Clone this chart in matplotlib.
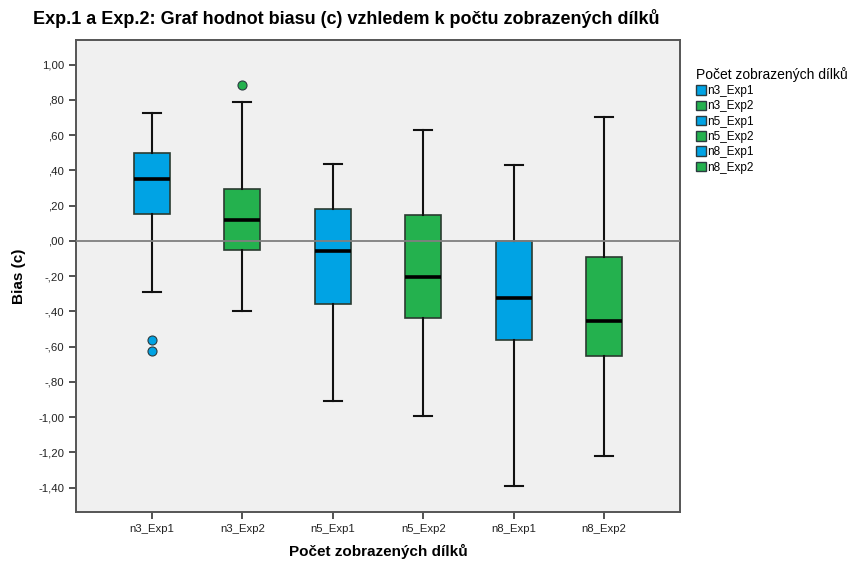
import matplotlib
matplotlib.use("Agg")
import matplotlib.pyplot as plt
from matplotlib.patches import Patch

plt.rcParams['font.family'] = ['Liberation Sans', 'DejaVu Sans']

# Groups and five-number summaries of the bias (c)
groups = ["n3_Exp1", "n3_Exp2", "n5_Exp1", "n5_Exp2", "n8_Exp1", "n8_Exp2"]
whisker_low = [-0.290, -0.396, -0.907, -0.996, -1.391, -1.223]
q1 = [0.150, -0.052, -0.356, -0.440, -0.561, -0.655]
median = [0.351, 0.120, -0.058, -0.203, -0.326, -0.455]
q3 = [0.500, 0.296, 0.179, 0.149, 0.000, -0.090]
whisker_high = [0.723, 0.791, 0.438, 0.627, 0.432, 0.703]
outliers = [[-0.563, -0.627], [0.882], [], [], [], []]

y_ticks = [1.0, 0.8, 0.6, 0.4, 0.2, 0.0, -0.2, -0.4, -0.6, -0.8, -1.0, -1.2, -1.4]
y_tick_labels = ["1,00", ",80", ",60", ",40", ",20", ",00", "-,20", "-,40",
                 "-,60", "-,80", "-1,00", "-1,20", "-1,40"]

blue = "#00A3E4"
green = "#24B14E"
colors = [blue, green, blue, green, blue, green]

fig = plt.figure(figsize=(8.55, 5.61), dpi=100)
ax = fig.add_axes([76 / 855, 1 - 512 / 561, 604 / 855, 472 / 561])
ax.set_facecolor("#F0F0F0")

stats = []
for i, g in enumerate(groups):
    stats.append(dict(label=g, whislo=whisker_low[i], q1=q1[i], med=median[i],
                      q3=q3[i], whishi=whisker_high[i], fliers=outliers[i]))

positions = list(range(1, len(groups) + 1))
bp = ax.bxp(stats, positions=positions, widths=0.4, patch_artist=True,
            showfliers=True,
            boxprops=dict(edgecolor="#2b3b30", linewidth=1.2),
            medianprops=dict(color="black", linewidth=2.6),
            whiskerprops=dict(color="#111111", linewidth=1.5),
            capprops=dict(color="#111111", linewidth=1.5),
            capwidths=0.2)
for patch, c in zip(bp['boxes'], colors):
    patch.set_facecolor(c)
for fl, c in zip(bp['fliers'], colors):
    fl.set(marker='o', markerfacecolor=c, markeredgecolor="#2b3b40",
           markersize=6.5, markeredgewidth=0.8)

# reference line at zero
ax.axhline(0, color="#808080", linewidth=1.3, zorder=5)

ax.set_xlim(0.16, 6.84)
ax.set_ylim(-1.538, 1.14)
ax.set_yticks(y_ticks)
ax.set_yticklabels(y_tick_labels)
ax.set_xticks(positions)
ax.set_xticklabels(groups)
ax.tick_params(axis='both', direction='out', length=5, width=1.2,
               color="#333333", labelsize=8.2, labelcolor="#222222")
for s in ax.spines.values():
    s.set_color("#555555")
    s.set_linewidth(1.4)

ax.set_ylabel("Bias (c)", fontsize=11, fontweight='bold', labelpad=9)
ax.set_xlabel("Počet zobrazených dílků", fontsize=11, fontweight='bold', labelpad=7)

fig.text(33 / 855, 1 - 18 / 561,
         "Exp.1 a Exp.2: Graf hodnot biasu (c) vzhledem k počtu zobrazených dílků",
         fontsize=13, fontweight='bold', va='center', ha='left')

handles = [Patch(facecolor=c, edgecolor="#2b3b40", linewidth=1.0) for c in colors]
leg = fig.legend(handles, groups, title="Počet zobrazených dílků",
                 loc='upper left', bbox_to_anchor=(691 / 855, 1 - 62 / 561),
                 frameon=False, fontsize=8.5, title_fontsize=10,
                 handlelength=0.85, handleheight=0.85, handletextpad=0.15,
                 labelspacing=0.28, borderaxespad=0)
leg._legend_box.align = "left"

fig.savefig("out.png", dpi=100)
